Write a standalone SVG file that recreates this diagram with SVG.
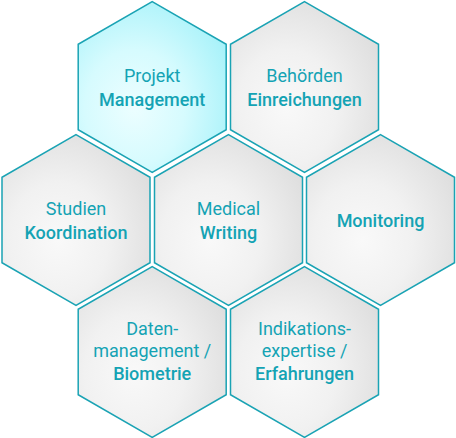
<svg xmlns="http://www.w3.org/2000/svg" xmlns:xlink="http://www.w3.org/1999/xlink" width="456" height="438" viewBox="0 0 456 438">
  <defs>
    <radialGradient id="gGray" cx="0.38" cy="0.62" r="0.75">
      <stop offset="0" stop-color="#f9f9f9"/>
      <stop offset="0.45" stop-color="#f1f1f1"/>
      <stop offset="1" stop-color="#dcdcdc"/>
    </radialGradient>
    <radialGradient id="gCyan" cx="0.38" cy="0.62" r="0.75">
      <stop offset="0" stop-color="#ecfeff"/>
      <stop offset="0.45" stop-color="#d6fbfe"/>
      <stop offset="1" stop-color="#a2f1f9"/>
    </radialGradient>
    <polygon id="hex" points="0,-85.4 74,-42.7 74,42.7 0,85.4 -74,42.7 -74,-42.7"/>
    <style>
      .hex { fill: url(#gGray); stroke: #1aa3b4; stroke-width: 1.5; }
      .hex.active { fill: url(#gCyan); }
      text { font-family: Roboto, "Liberation Sans", sans-serif; font-size: 18px; fill: #14a3b4; text-anchor: middle; }
      .b { font-weight: 500; }
    </style>
  </defs>
  <rect width="456" height="438" fill="#ffffff"/>
  <g id="projekt-management">
    <use xlink:href="#hex" class="hex active" transform="translate(152.2,87)"/>
    <text x="152.2" y="82">Projekt</text>
    <text x="152.2" y="106" class="b">Management</text>
  </g>
  <g id="behoerden-einreichungen">
    <use xlink:href="#hex" class="hex" transform="translate(304.5,87)"/>
    <text x="304.5" y="82">Behörden</text>
    <text x="304.5" y="106" class="b">Einreichungen</text>
  </g>
  <g id="studien-koordination">
    <use xlink:href="#hex" class="hex" transform="translate(76,220)"/>
    <text x="76" y="215">Studien</text>
    <text x="76" y="239" class="b">Koordination</text>
  </g>
  <g id="medical-writing">
    <use xlink:href="#hex" class="hex" transform="translate(228.5,220)"/>
    <text x="228.5" y="215">Medical</text>
    <text x="228.5" y="239" class="b">Writing</text>
  </g>
  <g id="monitoring">
    <use xlink:href="#hex" class="hex" transform="translate(380.5,220)"/>
    <text x="380.5" y="226.5" class="b">Monitoring</text>
  </g>
  <g id="datenmanagement-biometrie">
    <use xlink:href="#hex" class="hex" transform="translate(152.2,352)"/>
    <text x="152.2" y="334.5">Daten-</text>
    <text x="152.2" y="357">management /</text>
    <text x="152.2" y="379.5" class="b">Biometrie</text>
  </g>
  <g id="indikationsexpertise-erfahrungen">
    <use xlink:href="#hex" class="hex" transform="translate(304.5,352)"/>
    <text x="304.5" y="334.5">Indikations-</text>
    <text x="304.5" y="357">expertise /</text>
    <text x="304.5" y="379.5" class="b">Erfahrungen</text>
  </g>
</svg>
